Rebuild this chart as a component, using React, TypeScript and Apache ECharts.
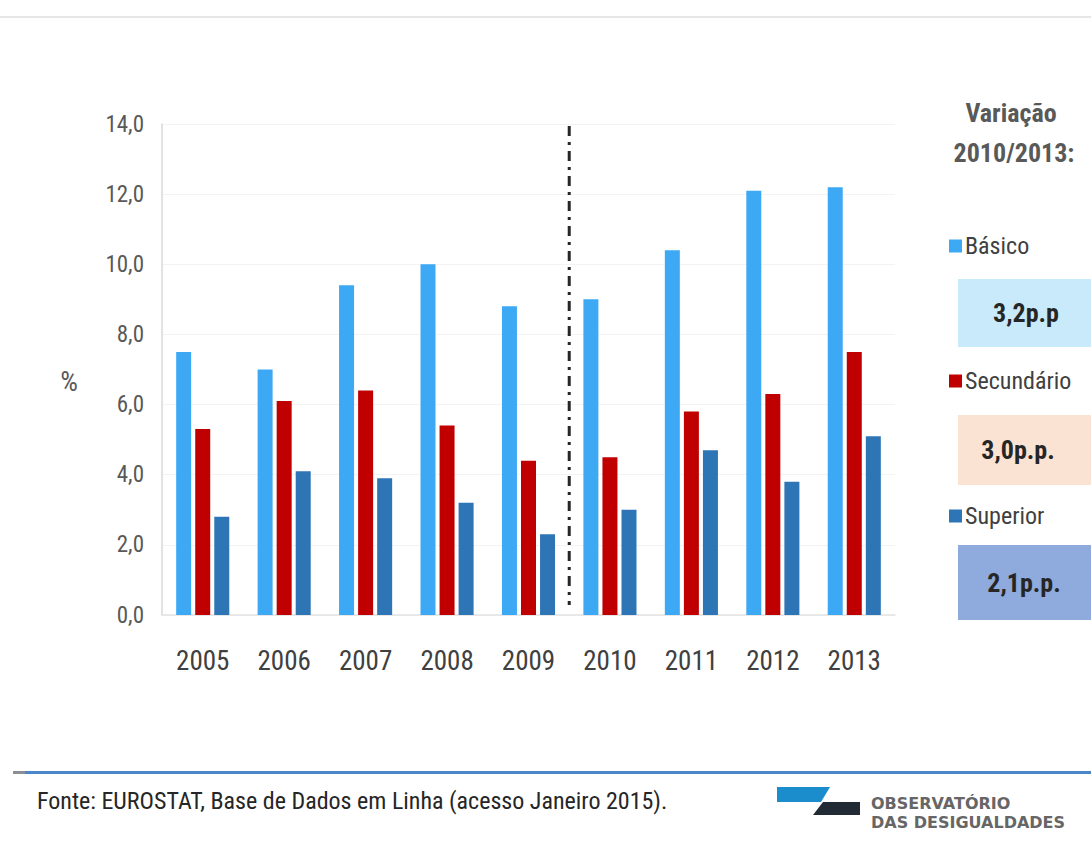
import React, { useEffect, useRef } from "react";
import * as echarts from "echarts";

const years = ["2005", "2006", "2007", "2008", "2009", "2010", "2011", "2012", "2013"];
const basico = [7.5, 7.0, 9.4, 10.0, 8.8, 9.0, 10.4, 12.1, 12.2];
const secundario = [5.3, 6.1, 6.4, 5.4, 4.4, 4.5, 5.8, 6.3, 7.5];
const superior = [2.8, 4.1, 3.9, 3.2, 2.3, 3.0, 4.7, 3.8, 5.1];
const seriesNames = ["Básico", "Secundário", "Superior"];
const seriesColors = ["#3DA9F4", "#C00000", "#2E75B6"];
const variacao = ["3,2p.p", "3,0p.p.", "2,1p.p."];
const boxColors = ["#C9EAFA", "#FBE3D4", "#8FAADC"];
const sourceText = "Fonte: EUROSTAT, Base de Dados em Linha (acesso Janeiro 2015).";

const NARROW = "'Liberation Sans Narrow', 'Roboto Condensed', 'Liberation Sans', sans-serif";

export default function App() {
  const ref = useRef<HTMLDivElement>(null);

  useEffect(() => {
    if (!ref.current) return;
    const chart = echarts.init(ref.current, null, { renderer: "svg" });
    const data = [basico, secundario, superior];

    const legendTops = [234, 369, 504];
    const baseOption: any = {
      animation: false,
      backgroundColor: "#ffffff",
      grid: { left: 162, right: 196, top: 124, bottom: 231, containLabel: false },
      xAxis: {
        type: "category",
        data: years,
        axisTick: { show: false },
        axisLine: { show: true, lineStyle: { color: "#e3e3e3", width: 1.5 } },
        axisLabel: { fontSize: 27, fontFamily: NARROW, color: "#404040", margin: 32 },
      },
      yAxis: {
        type: "value",
        min: 0,
        max: 14,
        interval: 2,
        axisLine: { show: true, lineStyle: { color: "#d9d9d9", width: 1.5 } },
        axisTick: { show: false },
        splitLine: { show: true, lineStyle: { color: "#f3f3f3" } },
        axisLabel: {
          fontSize: 23,
          fontFamily: NARROW,
          color: "#595959",
          margin: 18,
          formatter: (v: number) => v.toFixed(1).replace(".", ","),
        },
      },
      legend: seriesNames.map((n, i) => ({
        data: [n],
        left: 949,
        top: legendTops[i],
        icon: "rect",
        itemWidth: 13,
        itemHeight: 13,
        padding: 0,
        selectedMode: false,
        textStyle: { fontSize: 24, fontFamily: NARROW, color: "#404040", padding: [0, 0, 0, -2] },
      })),
      series: seriesNames.map((n, i) => ({
        name: n,
        type: "bar",
        data: data[i],
        barWidth: 15,
        barGap: "27%",
        itemStyle: { color: seriesColors[i] },
      })),
    };
    chart.setOption(baseOption);

    const x9 = chart.convertToPixel({ xAxisIndex: 0 }, years[4]) as number;
    const x10 = chart.convertToPixel({ xAxisIndex: 0 }, years[5]) as number;
    const xDiv = (x9 + x10) / 2;
    const yTop = chart.convertToPixel({ yAxisIndex: 0 }, 14) as number;
    const yBot = chart.convertToPixel({ yAxisIndex: 0 }, 0) as number;

    const boxY = [279, 415, 545];
    const boxH = [68, 70, 75];
    const boxTextX = [1026, 1018, 1024];

    const graphic: any[] = [
      { type: "rect", shape: { x: 0, y: 16, width: 1091, height: 2 }, style: { fill: "#e6e6e6" }, silent: true },
      {
        type: "line",
        shape: { x1: xDiv, y1: yTop + 2, x2: xDiv, y2: yBot - 10 },
        style: { stroke: "#262626", lineWidth: 3, lineDash: [10, 6, 3, 6] },
        silent: true,
      },
      {
        type: "text",
        x: 69,
        y: 381,
        style: { text: "%", fontSize: 28, fontFamily: NARROW, fill: "#595959", align: "center", verticalAlign: "middle" },
      },
      {
        type: "text",
        x: 1011,
        y: 113,
        style: { text: "Variação", fontSize: 26, fontWeight: "bold", fontFamily: NARROW, fill: "#595959", align: "center", verticalAlign: "middle" },
      },
      {
        type: "text",
        x: 1014,
        y: 153,
        style: { text: "2010/2013:", fontSize: 26, fontWeight: "bold", fontFamily: NARROW, fill: "#595959", align: "center", verticalAlign: "middle" },
      },
      // bottom rule and source
      { type: "rect", shape: { x: 15, y: 771, width: 1076, height: 3 }, style: { fill: "#4A86C8" }, silent: true },
      { type: "rect", shape: { x: 13, y: 771, width: 12, height: 3 }, style: { fill: "#8a8f96" }, silent: true },
      {
        type: "text",
        x: 37,
        y: 801,
        style: { text: sourceText, fontSize: 24, fontFamily: NARROW, fill: "#262626", verticalAlign: "middle" },
      },
      // logo
      { type: "polygon", shape: { points: [[777, 787], [830, 787], [821, 802], [777, 802]] }, style: { fill: "#1B8CCC" }, silent: true },
      { type: "polygon", shape: { points: [[823, 802], [860, 802], [860, 815], [813, 815]] }, style: { fill: "#222B35" }, silent: true },
      {
        type: "text",
        x: 871,
        y: 803,
        style: { text: "OBSERVATÓRIO", fontSize: 16, fontWeight: "bold", fontFamily: "'DejaVu Sans', sans-serif", fill: "#666666", verticalAlign: "middle" },
      },
      {
        type: "text",
        x: 871,
        y: 822,
        style: { text: "DAS DESIGUALDADES", fontSize: 16, fontWeight: "bold", fontFamily: "'DejaVu Sans', sans-serif", fill: "#666666", verticalAlign: "middle" },
      },
    ];
    variacao.forEach((t, i) => {
      graphic.push({
        type: "rect",
        shape: { x: 958, y: boxY[i], width: 140, height: boxH[i] },
        style: { fill: boxColors[i] },
        silent: true,
      });
      graphic.push({
        type: "text",
        x: boxTextX[i],
        y: boxY[i] + boxH[i] / 2,
        style: { text: t, fontSize: 26, fontWeight: "bold", fontFamily: NARROW, fill: "#262626", align: "center", verticalAlign: "middle" },
      });
    });
    chart.setOption({ graphic });

    return () => chart.dispose();
  }, []);

  return (
    <div
      ref={ref}
      style={{ position: "fixed", left: 0, top: 0, width: 1091, height: 846, background: "#fff" }}
    />
  );
}
